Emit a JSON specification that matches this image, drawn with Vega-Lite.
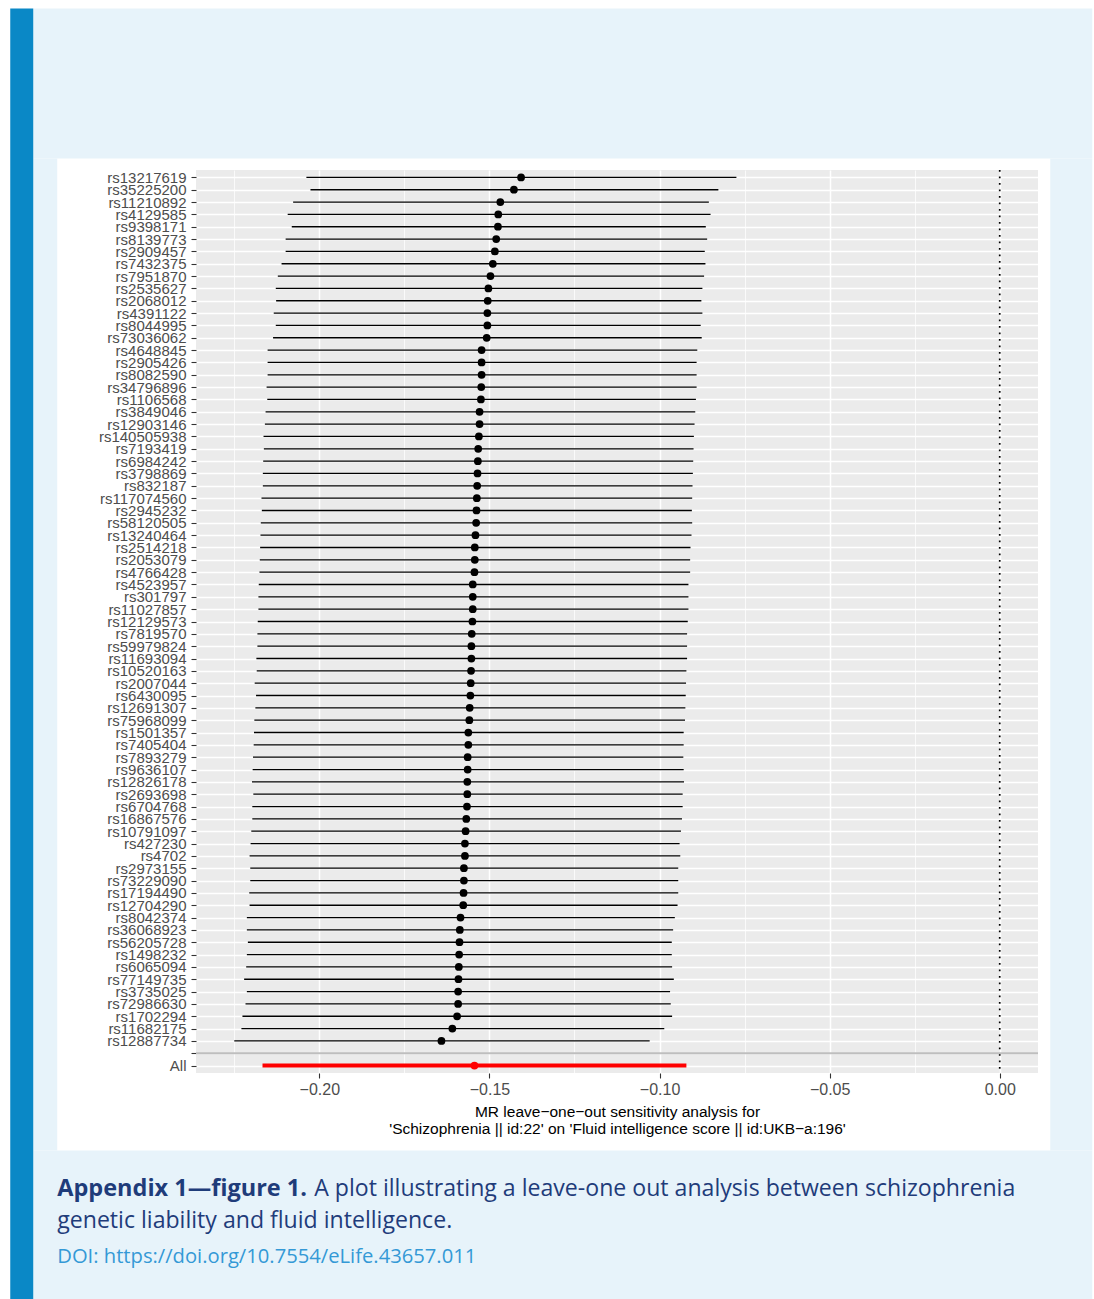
{
  "$schema": "https://vega.github.io/schema/vega-lite/v6.json",
  "width": 842,
  "height": 903,
  "padding": {"left": 10, "top": 8, "right": 2, "bottom": 0},
  "background": "#ffffff",
  "view": {"fill": "#ebebeb", "stroke": null},
  "config": {"font": "Liberation Sans", "view": {"stroke": null}},
  "resolve": {"scale": {"y": "independent"}},
  "layer": [
    {
      "data": {"values": [
        {"snp": "rs13217619", "b": -0.1407, "lo": -0.2038, "up": -0.0774},
        {"snp": "rs35225200", "b": -0.1428, "lo": -0.2026, "up": -0.0827},
        {"snp": "rs11210892", "b": -0.1468, "lo": -0.2077, "up": -0.0855},
        {"snp": "rs4129585", "b": -0.1474, "lo": -0.2093, "up": -0.0850},
        {"snp": "rs9398171", "b": -0.1475, "lo": -0.2081, "up": -0.0864},
        {"snp": "rs8139773", "b": -0.1480, "lo": -0.2099, "up": -0.0860},
        {"snp": "rs2909457", "b": -0.1484, "lo": -0.2099, "up": -0.0867},
        {"snp": "rs7432375", "b": -0.1490, "lo": -0.2111, "up": -0.0865},
        {"snp": "rs7951870", "b": -0.1497, "lo": -0.2122, "up": -0.0869},
        {"snp": "rs2535627", "b": -0.1503, "lo": -0.2128, "up": -0.0874},
        {"snp": "rs2068012", "b": -0.1505, "lo": -0.2127, "up": -0.0877},
        {"snp": "rs4391122", "b": -0.1506, "lo": -0.2134, "up": -0.0874},
        {"snp": "rs8044995", "b": -0.1506, "lo": -0.2128, "up": -0.0879},
        {"snp": "rs73036062", "b": -0.1508, "lo": -0.2136, "up": -0.0876},
        {"snp": "rs4648845", "b": -0.1523, "lo": -0.2152, "up": -0.0889},
        {"snp": "rs2905426", "b": -0.1523, "lo": -0.2152, "up": -0.0891},
        {"snp": "rs8082590", "b": -0.1523, "lo": -0.2152, "up": -0.0891},
        {"snp": "rs34796896", "b": -0.1524, "lo": -0.2155, "up": -0.0891},
        {"snp": "rs1106568", "b": -0.1525, "lo": -0.2153, "up": -0.0893},
        {"snp": "rs3849046", "b": -0.1529, "lo": -0.2158, "up": -0.0895},
        {"snp": "rs12903146", "b": -0.1529, "lo": -0.2160, "up": -0.0897},
        {"snp": "rs140505938", "b": -0.1531, "lo": -0.2164, "up": -0.0899},
        {"snp": "rs7193419", "b": -0.1533, "lo": -0.2163, "up": -0.0900},
        {"snp": "rs6984242", "b": -0.1534, "lo": -0.2165, "up": -0.0901},
        {"snp": "rs3798869", "b": -0.1535, "lo": -0.2166, "up": -0.0902},
        {"snp": "rs832187", "b": -0.1536, "lo": -0.2166, "up": -0.0903},
        {"snp": "rs117074560", "b": -0.1537, "lo": -0.2170, "up": -0.0904},
        {"snp": "rs2945232", "b": -0.1538, "lo": -0.2169, "up": -0.0905},
        {"snp": "rs58120505", "b": -0.1539, "lo": -0.2172, "up": -0.0904},
        {"snp": "rs13240464", "b": -0.1541, "lo": -0.2173, "up": -0.0906},
        {"snp": "rs2514218", "b": -0.1543, "lo": -0.2174, "up": -0.0909},
        {"snp": "rs2053079", "b": -0.1543, "lo": -0.2175, "up": -0.0910},
        {"snp": "rs4766428", "b": -0.1544, "lo": -0.2176, "up": -0.0910},
        {"snp": "rs4523957", "b": -0.1549, "lo": -0.2178, "up": -0.0915},
        {"snp": "rs301797", "b": -0.1549, "lo": -0.2179, "up": -0.0915},
        {"snp": "rs11027857", "b": -0.1549, "lo": -0.2179, "up": -0.0915},
        {"snp": "rs12129573", "b": -0.1550, "lo": -0.2181, "up": -0.0917},
        {"snp": "rs7819570", "b": -0.1552, "lo": -0.2182, "up": -0.0919},
        {"snp": "rs59979824", "b": -0.1553, "lo": -0.2182, "up": -0.0919},
        {"snp": "rs11693094", "b": -0.1553, "lo": -0.2185, "up": -0.0919},
        {"snp": "rs10520163", "b": -0.1554, "lo": -0.2184, "up": -0.0921},
        {"snp": "rs2007044", "b": -0.1555, "lo": -0.2190, "up": -0.0922},
        {"snp": "rs6430095", "b": -0.1556, "lo": -0.2186, "up": -0.0923},
        {"snp": "rs12691307", "b": -0.1558, "lo": -0.2188, "up": -0.0924},
        {"snp": "rs75968099", "b": -0.1559, "lo": -0.2191, "up": -0.0925},
        {"snp": "rs1501357", "b": -0.1562, "lo": -0.2192, "up": -0.0929},
        {"snp": "rs7405404", "b": -0.1562, "lo": -0.2193, "up": -0.0929},
        {"snp": "rs7893279", "b": -0.1564, "lo": -0.2195, "up": -0.0930},
        {"snp": "rs9636107", "b": -0.1564, "lo": -0.2196, "up": -0.0929},
        {"snp": "rs12826178", "b": -0.1565, "lo": -0.2198, "up": -0.0928},
        {"snp": "rs2693698", "b": -0.1565, "lo": -0.2194, "up": -0.0932},
        {"snp": "rs6704768", "b": -0.1566, "lo": -0.2197, "up": -0.0932},
        {"snp": "rs16867576", "b": -0.1568, "lo": -0.2197, "up": -0.0934},
        {"snp": "rs10791097", "b": -0.1570, "lo": -0.2200, "up": -0.0937},
        {"snp": "rs427230", "b": -0.1572, "lo": -0.2202, "up": -0.0941},
        {"snp": "rs4702", "b": -0.1572, "lo": -0.2205, "up": -0.0939},
        {"snp": "rs2973155", "b": -0.1575, "lo": -0.2203, "up": -0.0945},
        {"snp": "rs73229090", "b": -0.1575, "lo": -0.2203, "up": -0.0945},
        {"snp": "rs17194490", "b": -0.1576, "lo": -0.2206, "up": -0.0945},
        {"snp": "rs12704290", "b": -0.1577, "lo": -0.2205, "up": -0.0947},
        {"snp": "rs8042374", "b": -0.1585, "lo": -0.2213, "up": -0.0955},
        {"snp": "rs36068923", "b": -0.1587, "lo": -0.2213, "up": -0.0960},
        {"snp": "rs56205728", "b": -0.1588, "lo": -0.2210, "up": -0.0964},
        {"snp": "rs1498232", "b": -0.1589, "lo": -0.2213, "up": -0.0964},
        {"snp": "rs6065094", "b": -0.1590, "lo": -0.2215, "up": -0.0963},
        {"snp": "rs77149735", "b": -0.1591, "lo": -0.2221, "up": -0.0958},
        {"snp": "rs3735025", "b": -0.1592, "lo": -0.2213, "up": -0.0969},
        {"snp": "rs72986630", "b": -0.1592, "lo": -0.2217, "up": -0.0967},
        {"snp": "rs1702294", "b": -0.1595, "lo": -0.2226, "up": -0.0963},
        {"snp": "rs11682175", "b": -0.1609, "lo": -0.2229, "up": -0.0986},
        {"snp": "rs12887734", "b": -0.1641, "lo": -0.2250, "up": -0.1029},
        {"snp": "All", "b": -0.1544, "lo": -0.2167, "up": -0.0921}
      ]},
      "layer": [
        {
          "data": {"values": [{}]},
          "mark": {"type": "rule", "color": "#000000", "strokeWidth": 1.7, "strokeDash": [1.7, 4.8]},
          "encoding": {"x": {"datum": 0, "type": "quantitative", "scale": {"domain": [-0.23625, 0.01125], "nice": false, "zero": false}}}
        },
        {
          "data": {"values": [{}]},
          "mark": {"type": "rule", "color": "#bebebe", "strokeWidth": 2},
          "encoding": {"y": {"datum": " ", "type": "nominal"}}
        },
        {
          "mark": {"type": "rule"},
          "encoding": {
            "y": {
              "field": "snp", "type": "nominal", "title": null,
              "scale": {"type": "point", "padding": 0.6, "domain": ["rs13217619","rs35225200","rs11210892","rs4129585","rs9398171","rs8139773","rs2909457","rs7432375","rs7951870","rs2535627","rs2068012","rs4391122","rs8044995","rs73036062","rs4648845","rs2905426","rs8082590","rs34796896","rs1106568","rs3849046","rs12903146","rs140505938","rs7193419","rs6984242","rs3798869","rs832187","rs117074560","rs2945232","rs58120505","rs13240464","rs2514218","rs2053079","rs4766428","rs4523957","rs301797","rs11027857","rs12129573","rs7819570","rs59979824","rs11693094","rs10520163","rs2007044","rs6430095","rs12691307","rs75968099","rs1501357","rs7405404","rs7893279","rs9636107","rs12826178","rs2693698","rs6704768","rs16867576","rs10791097","rs427230","rs4702","rs2973155","rs73229090","rs17194490","rs12704290","rs8042374","rs36068923","rs56205728","rs1498232","rs6065094","rs77149735","rs3735025","rs72986630","rs1702294","rs11682175","rs12887734"," ","All"]},
              "axis": {"grid": true, "gridColor": "#ffffff", "gridWidth": 1.5, "domain": false, "tickColor": "#333333", "tickSize": 5, "tickWidth": 1.1, "labelColor": "#4d4d4d", "labelFontSize": 15, "labelFont": "Liberation Sans", "labelPadding": 5, "labelOverlap": false, "labelBound": false, "labelFlush": false}
            },
            "x": {
              "field": "lo", "type": "quantitative",
              "scale": {"domain": [-0.23625, 0.01125], "nice": false, "zero": false},
              "title": ["MR leave−one−out sensitivity analysis for", "'Schizophrenia || id:22' on 'Fluid intelligence score || id:UKB−a:196'"],
              "axis": {
                "values": [-0.225, -0.2, -0.175, -0.15, -0.125, -0.1, -0.075, -0.05, -0.025, 0],
                "grid": true, "gridColor": "#ffffff",
                "gridWidth": {"condition": {"test": "abs(datum.value*20 - round(datum.value*20)) < 0.001", "value": 1.5}, "value": 0.75},
                "tickColor": {"condition": {"test": "abs(datum.value*20 - round(datum.value*20)) < 0.001", "value": "#333333"}, "value": "rgba(0,0,0,0)"},
                "tickSize": 5, "tickWidth": 1.1, "domain": false,
                "labelExpr": "abs(datum.value*20 - round(datum.value*20)) < 0.001 ? replace(format(datum.value, '.2f'), '-', '−') : ''",
                "labelColor": "#4d4d4d", "labelFontSize": 16, "labelFont": "Liberation Sans", "labelPadding": 3, "labelFlush": false, "labelOverlap": false,
                "titleColor": "#000000", "titleFont": "Liberation Sans", "titleFontSize": 15.5, "titleFontWeight": "normal", "titlePadding": 7, "titleLineHeight": 17
              }
            },
            "x2": {"field": "up"},
            "color": {"condition": {"test": "datum.snp === 'All'", "value": "#ff0000"}, "value": "#000000"},
            "strokeWidth": {"condition": {"test": "datum.snp === 'All'", "value": 4}, "value": 1.3}
          }
        },
        {
          "mark": {"type": "point", "filled": true, "opacity": 1, "size": 60},
          "encoding": {
            "y": {"field": "snp", "type": "nominal"},
            "x": {"field": "b", "type": "quantitative"},
            "color": {"condition": {"test": "datum.snp === 'All'", "value": "#ff0000"}, "value": "#000000"}
          }
        }
      ]
    },
    {
      "data": {"values": [{}]},
      "mark": {"type": "rect", "color": "#e7f3fa"},
      "encoding": {
        "x": {"datum": -0.28409, "type": "quantitative", "scale": {"domain": [-0.23625, 0.01125], "nice": false, "zero": false}},
        "x2": {"datum": 0.02720},
        "y": {"datum": -0.17896, "type": "quantitative", "scale": {"domain": [0, 1], "reverse": true, "nice": false, "zero": false}, "axis": null},
        "y2": {"datum": -0.01285}
      }
    },
    {
      "data": {"values": [{}]},
      "mark": {"type": "rect", "color": "#e7f3fa"},
      "encoding": {
        "x": {"datum": -0.28409, "type": "quantitative", "scale": {"domain": [-0.23625, 0.01125], "nice": false, "zero": false}},
        "x2": {"datum": 0.02720},
        "y": {"datum": 1.08571, "type": "quantitative", "scale": {"domain": [0, 1], "reverse": true, "nice": false, "zero": false}, "axis": null},
        "y2": {"datum": 1.2507}
      }
    },
    {
      "data": {"values": [{}]},
      "mark": {"type": "rect", "color": "#e7f3fa"},
      "encoding": {
        "x": {"datum": -0.28409, "type": "quantitative", "scale": {"domain": [-0.23625, 0.01125], "nice": false, "zero": false}},
        "x2": {"datum": -0.27704},
        "y": {"datum": -0.01285, "type": "quantitative", "scale": {"domain": [0, 1], "reverse": true, "nice": false, "zero": false}, "axis": null},
        "y2": {"datum": 1.08571}
      }
    },
    {
      "data": {"values": [{}]},
      "mark": {"type": "rect", "color": "#e7f3fa"},
      "encoding": {
        "x": {"datum": 0.01485, "type": "quantitative", "scale": {"domain": [-0.23625, 0.01125], "nice": false, "zero": false}},
        "x2": {"datum": 0.02720},
        "y": {"datum": -0.01285, "type": "quantitative", "scale": {"domain": [0, 1], "reverse": true, "nice": false, "zero": false}, "axis": null},
        "y2": {"datum": 1.08571}
      }
    },
    {
      "data": {"values": [{}]},
      "mark": {"type": "rect", "color": "#0a88c6"},
      "encoding": {
        "x": {"datum": -0.29085, "type": "quantitative", "scale": {"domain": [-0.23625, 0.01125], "nice": false, "zero": false}},
        "x2": {"datum": -0.28409},
        "y": {"datum": -0.17896, "type": "quantitative", "scale": {"domain": [0, 1], "reverse": true, "nice": false, "zero": false}, "axis": null},
        "y2": {"datum": 1.2507}
      }
    },
    {
      "data": {"values": [{}]},
      "mark": {"type": "text", "align": "left", "baseline": "alphabetic", "font": "Open Sans", "fontSize": 23.5, "fontWeight": "bold", "color": "#1f3c7a"},
      "encoding": {
        "x": {"datum": -0.27704, "type": "quantitative", "scale": {"domain": [-0.23625, 0.01125], "nice": false, "zero": false}},
        "y": {"datum": 1.13666, "type": "quantitative", "scale": {"domain": [0, 1], "reverse": true, "nice": false, "zero": false}, "axis": null},
        "text": {"value": "Appendix 1—figure 1."}
      }
    },
    {
      "data": {"values": [{}]},
      "mark": {"type": "text", "align": "left", "baseline": "alphabetic", "font": "Open Sans", "fontSize": 23.1, "color": "#1f3c7a"},
      "encoding": {
        "x": {"datum": -0.20149, "type": "quantitative", "scale": {"domain": [-0.23625, 0.01125], "nice": false, "zero": false}},
        "y": {"datum": 1.13666, "type": "quantitative", "scale": {"domain": [0, 1], "reverse": true, "nice": false, "zero": false}, "axis": null},
        "text": {"value": "A plot illustrating a leave-one out analysis between schizophrenia"}
      }
    },
    {
      "data": {"values": [{}]},
      "mark": {"type": "text", "align": "left", "baseline": "alphabetic", "font": "Open Sans", "fontSize": 23.1, "color": "#1f3c7a"},
      "encoding": {
        "x": {"datum": -0.27704, "type": "quantitative", "scale": {"domain": [-0.23625, 0.01125], "nice": false, "zero": false}},
        "y": {"datum": 1.17209, "type": "quantitative", "scale": {"domain": [0, 1], "reverse": true, "nice": false, "zero": false}, "axis": null},
        "text": {"value": "genetic liability and fluid intelligence."}
      }
    },
    {
      "data": {"values": [{}]},
      "mark": {"type": "text", "align": "left", "baseline": "alphabetic", "font": "Open Sans", "fontSize": 20.2, "color": "#3499d6"},
      "encoding": {
        "x": {"datum": -0.27704, "type": "quantitative", "scale": {"domain": [-0.23625, 0.01125], "nice": false, "zero": false}},
        "y": {"datum": 1.21085, "type": "quantitative", "scale": {"domain": [0, 1], "reverse": true, "nice": false, "zero": false}, "axis": null},
        "text": {"value": "DOI: https://doi.org/10.7554/eLife.43657.011"}
      }
    }
  ]
}
